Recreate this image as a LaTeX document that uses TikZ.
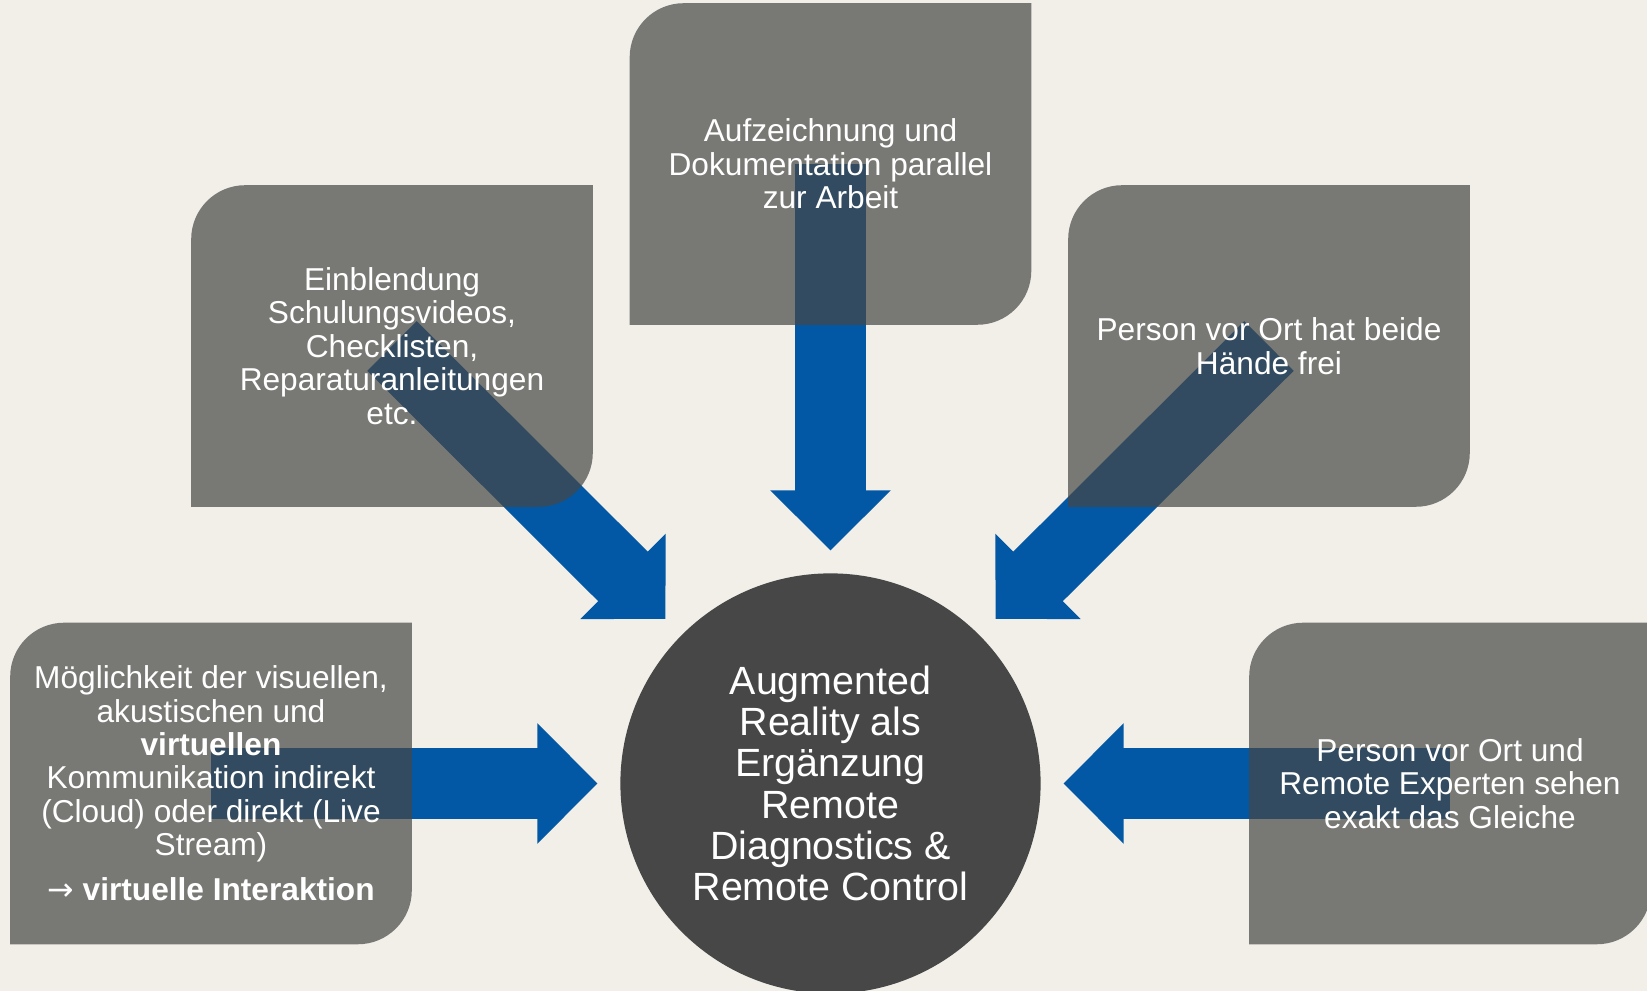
\documentclass[tikz,border=0pt]{standalone}
\usepackage{fontspec}
\setmainfont{Liberation Sans}
\newfontfamily\symfont{DejaVu Sans}
\usepackage{tikz}
\usetikzlibrary{positioning, calc, arrows.meta}
\definecolor{bgbeige}{RGB}{241,239,232}
\definecolor{panelgray}{RGB}{70,70,68}
\definecolor{arblue}{RGB}{3,88,165}
\definecolor{circlegray}{RGB}{71,71,71}
\newcommand{\CornerRadius}{0.54cm}
\newcommand{\TipGap}{2.33cm}
\pgfdeclarelayer{bglayer}
\pgfdeclarelayer{arrowlayer}
\pgfdeclarelayer{panellayer}
\pgfsetlayers{bglayer,arrowlayer,panellayer,main}

\begin{document}
\begin{tikzpicture}[x=0.01cm, y=0.01cm,
  panel/.style={minimum width=4cm, minimum height=3.2cm, inner sep=0pt,
    align=center, text=white, font=\fontsize{9pt}{9.5pt}\selectfont},
  hub/.style={circle, fill=circlegray, minimum size=4.2cm, inner sep=0pt,
    align=center, text=white, font=\fontsize{11.2pt}{11.75pt}\selectfont},
  blockarrow/.style={arblue, line width=0.7cm,
    -{Triangle[length=0.6cm, width=1.2cm, line width=0.8pt]}}]
\useasboundingbox (0,0) rectangle (1647,991);
% background
\begin{pgfonlayer}{bglayer}
\fill[bgbeige] (0,0) rectangle (1647,991);
\end{pgfonlayer}
% centre circle
\node[hub] (ar) at (830.5,207.5) {Augmented\\Reality als\\Ergänzung\\Remote\\Diagnostics \&\\Remote Control};
% text boxes
\node[panel] (rec) at (830.5,827) {Aufzeichnung und\\Dokumentation parallel\\zur Arbeit};
\node[panel] (vid) at (392,645) {Einblendung\\Schulungsvideos,\\Checklisten,\\Reparaturanleitungen\\etc.};
\node[panel] (hands) at (1269,645) {Person vor Ort hat beide\\Hände frei};
\node[panel] (comm) at (211,207.5) {Möglichkeit der visuellen,\\akustischen und\\\textbf{virtuellen}\\Kommunikation indirekt\\(Cloud) oder direkt (Live\\Stream)\\[3.3pt]{\symfont →} \textbf{virtuelle Interaktion}};
\node[panel] (same) at (1450,207.5) {Person vor Ort und\\Remote Experten sehen\\exakt das Gleiche};
% panel fills, round corners top left and bottom right
\begin{pgfonlayer}{panellayer}
\foreach \b in {rec,vid,hands,comm,same}
\fill[panelgray, fill opacity=0.7] (\b.south west) -- ([yshift=-\CornerRadius]\b.north west)
  arc[start angle=180, end angle=90, radius=\CornerRadius] -- (\b.north east)
  -- ([yshift=\CornerRadius]\b.south east)
  arc[start angle=0, end angle=-90, radius=\CornerRadius] -- cycle;
\end{pgfonlayer}
% arrows from panels to circle
\begin{pgfonlayer}{arrowlayer}
\foreach \b in {rec,vid,hands,comm,same}
\draw[blockarrow] (\b.center) -- ($(ar.center)!\TipGap!(\b.center)$);
\end{pgfonlayer}
\end{tikzpicture}
\end{document}
